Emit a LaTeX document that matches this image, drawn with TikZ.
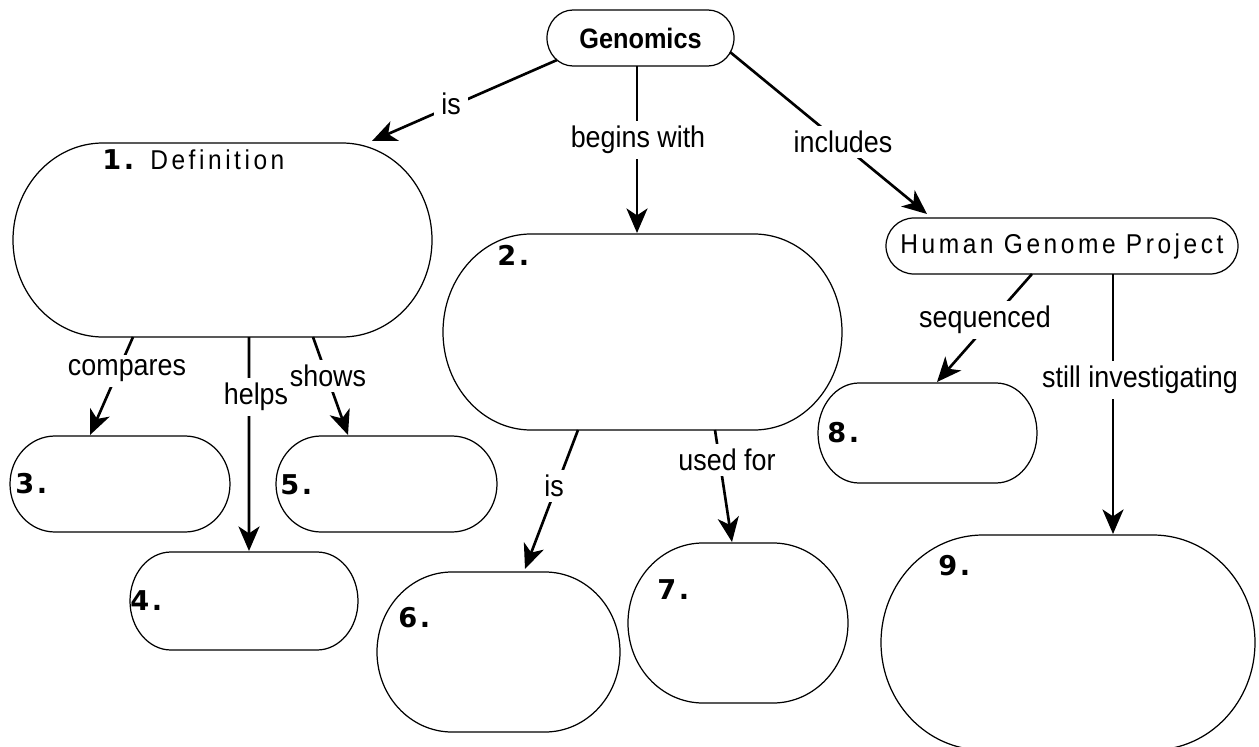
\documentclass[tikz,border=0pt]{standalone}
\usepackage{fontspec}
\setmainfont{Liberation Sans}
\newfontfamily\lblfont{Liberation Sans}[FakeStretch=0.9]
\newfontfamily\headfont{Liberation Sans Bold}[FakeStretch=0.9]
\newfontfamily\spacedfont{Liberation Sans}[FakeStretch=0.9,LetterSpace=13]
\newfontfamily\numfont{DejaVu Sans}
\usetikzlibrary{arrows.meta,calc}

% Pill-shaped box with half-elliptic ends: name, x1, y1, x2, y2, end radius
\newcommand\pillbox[6]{%
  \pgfmathsetmacro\pxa{#2+#6}%
  \pgfmathsetmacro\pxb{#4-#6}%
  \pgfmathsetmacro\pym{(#3+#5)/2}%
  \pgfmathsetmacro\pkx{0.5523*#6}%
  \pgfmathsetmacro\pky{0.5523*(#5-#3)/2}%
  \pgfmathsetmacro\pw{(#4-#2)*0.02}%
  \pgfmathsetmacro\ph{(#5-#3)*0.02}%
  \node[boxnode,minimum width=\pw cm,minimum height=\ph cm] (#1) at ({(#2+#4)/2},\pym) {};
  \draw[boxline] (\pxa,#3) -- (\pxb,#3)
    .. controls ({\pxb+\pkx},#3) and (#4,{\pym-\pky}) .. (#4,\pym)
    .. controls (#4,{\pym+\pky}) and ({\pxb+\pkx},#5) .. (\pxb,#5)
    -- (\pxa,#5)
    .. controls ({\pxa-\pkx},#5) and (#2,{\pym+\pky}) .. (#2,\pym)
    .. controls (#2,{\pym-\pky}) and ({\pxa-\pkx},#3) .. (\pxa,#3) -- cycle;
}
% numbered box label: digit, a little space, then the full stop
\newcommand\boxnum[1]{#1\kern1.5pt.}

\begin{document}
\begin{tikzpicture}[x=0.02cm,y=-0.02cm,
  boxnode/.style={inner sep=0pt,outer sep=0pt},
  boxline/.style={line width=0.7pt},
  link/.style={line width=1.5pt,-{Stealth[length=14pt,width=12pt,inset=4pt]}},
  lbl/.style={fill=white,inner xsep=4pt,inner ysep=3pt,font=\lblfont\fontsize{17}{20}\selectfont},
  num/.style={anchor=base west,inner sep=0pt,font=\numfont\bfseries\fontsize{15.5}{18}\selectfont},
  spaced/.style={inner sep=0pt,font=\spacedfont\fontsize{15.5}{18}\selectfont}]
\useasboundingbox (0,0) rectangle (1259,747);
\clip (0,0) rectangle (1259,747);

% boxes
\pillbox{g}{547}{10}{734}{66}{26}
\pillbox{b1}{13}{143}{432}{337}{90}
\pillbox{b2}{443}{234}{842}{430}{88}
\pillbox{hgp}{886}{218}{1238}{274}{28}
\pillbox{b3}{10}{436}{230}{532}{45}
\pillbox{b4}{130}{552}{358}{650}{41}
\pillbox{b5}{276}{436}{497}{532}{45}
\pillbox{b6}{377}{572}{620}{732}{75}
\pillbox{b7}{628}{543}{848}{703}{75}
\pillbox{b8}{818}{383}{1037}{483}{41}
\pillbox{b9}{881}{535}{1255}{750}{102}

% box texts
\node[inner sep=0pt,font=\headfont\fontsize{16}{19}\selectfont] (gt) at (g.center) {Genomics};
\node[spaced] (ht) at (hgp.center) {Human Genome Project};
\node[num] (n1) at (102,169) {\boxnum{1}};
\node[spaced,anchor=base west] (dt) at (150,169) {Definition};
\node[num] (n2) at (497,265) {\boxnum{2}};
\node[num] (n3) at (15,493) {\boxnum{3}};
\node[num] (n4) at (130,610) {\boxnum{4}};
\node[num] (n5) at (280,494) {\boxnum{5}};
\node[num] (n6) at (398,627) {\boxnum{6}};
\node[num] (n7) at (657,599) {\boxnum{7}};
\node[num] (n8) at (827,442) {\boxnum{8}};
\node[num] (n9) at (938,575) {\boxnum{9}};

% connectors
\draw[link] ($(g.center)+(-83.5,22)$) -- ($(b1.north)+(149.5,-2)$);
\draw[link] ($(g.south)+(-3.5,0)$) -- ($(b2.north)+(-5.5,-1)$);
\draw[link] ($(g.center)+(89.5,14)$) -- ($(hgp.north)+(-135,-4)$);
\draw[link] ($(b1.south)+(-89.5,0)$) -- ($(b3.north)+(-30,-1)$);
\draw[link] ($(b1.south)+(26.5,0)$) -- ($(b4.north)+(5,-1)$);
\draw[link] ($(b1.south)+(90.5,0)$) -- ($(b5.north)+(-38.5,-1)$);
\draw[link] ($(b2.south)+(-64.5,0)$) -- ($(b6.north)+(26.5,-3)$);
\draw[link] ($(b2.south)+(72.5,0)$) -- ($(b7.north)+(-6,-1)$);
\draw[link] ($(hgp.south)+(-30,0)$) -- ($(b8.north)+(9.5,-1)$);
\draw[link] ($(hgp.south)+(51,0)$) -- ($(b9.north)+(45,-1)$);

% connector labels
\node[lbl] (l1) at (451,104) {is};
\node[lbl] (l2) at (638,140) {begins with};
\node[lbl] (l3) at (843,142) {includes};
\node[lbl] (l4) at (127,371) {compares};
\node[lbl] (l5) at (256,397) {helps};
\node[lbl] (l6) at (328,376) {shows};
\node[lbl] (l7) at (554,486) {is};
\node[lbl] (l8) at (727,460) {used for};
\node[lbl] (l9) at (985,320) {sequenced};
\node[lbl] (l10) at (1140,380) {still investigating};
\end{tikzpicture}
\end{document}
